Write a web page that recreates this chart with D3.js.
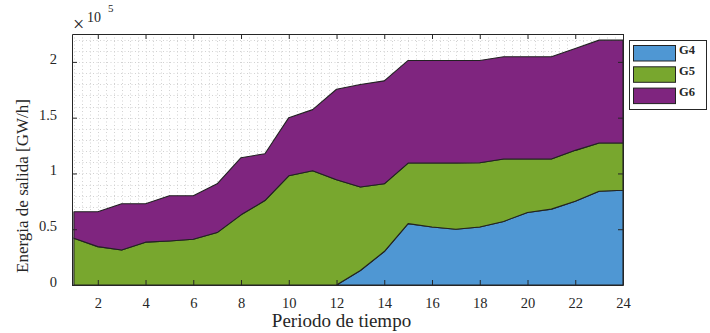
<!DOCTYPE html>
<html>
<head>
<meta charset="utf-8">
<script src="https://cdn.jsdelivr.net/npm/d3@7"></script>
<style>
  body { margin: 0; background: #fff; }
</style>
</head>
<body>
<div id="chart"></div>
<script>
// periods 1..24
var periods = d3.range(1, 25);

// output energy per generator [GW/h]
var g4 = [0, 0, 0, 0, 0, 0, 0, 0, 0, 0, 0, 0,
          13000, 30000, 55000, 52000, 50000, 52000, 57000, 65000, 68000, 75000, 84000, 85000];
var g5 = [42000, 34400, 31400, 38400, 39500, 41000, 47000, 62900, 75700, 97900, 102400, 94300,
          74800, 60700, 54300, 57300, 59300, 57600, 55900, 47900, 44900, 45700, 43300, 42300];
var g6 = [23600, 31200, 41400, 34400, 40500, 39000, 43700, 51200, 42000, 52100, 54800, 81200,
          91900, 92300, 92000, 92000, 92000, 91700, 91700, 91700, 91700, 91300, 92200, 92200];

var seriesNames = ["G4", "G5", "G6"];
var colors = ["#4f97d3", "#78a72e", "#7f257f"];
var xTicks = d3.range(2, 25, 2);
var yTicks = [0, 50000, 100000, 150000, 200000];

var serif = "'Liberation Serif', 'DejaVu Serif', serif";
var ink = "#262626";

var margin = { top: 34, right: 87, bottom: 48, left: 72 },
    width = 710 - margin.left - margin.right,
    height = 333 - margin.top - margin.bottom;

var svg = d3.select("#chart").append("svg")
    .attr("width", 710)
    .attr("height", 333);

var g = svg.append("g")
    .attr("transform", "translate(" + margin.left + "," + margin.top + ")");

var x = d3.scaleLinear().domain([0.92, 24]).range([0, width]);
var y = d3.scaleLinear().domain([0, 225000]).range([height, 0]);

// table for the stack
var table = periods.map(function (p, i) {
  return { p: p, G4: g4[i], G5: g5[i], G6: g6[i] };
});
var stacked = d3.stack().keys(seriesNames)(table);

// minor dotted grid
var gx = d3.range(1, 24.01, 1 / 3);
var gy = d3.range(10000, 225000, 10000);
g.append("g").selectAll("line").data(gx).enter().append("line")
    .attr("x1", function (d) { return Math.round(x(d)) + 0.5; })
    .attr("x2", function (d) { return Math.round(x(d)) + 0.5; })
    .attr("y1", 0).attr("y2", height)
    .attr("stroke", "#d2d2d2")
    .attr("stroke-width", 1)
    .attr("stroke-dasharray", "1,2.5");
g.append("g").selectAll("line").data(gy).enter().append("line")
    .attr("y1", function (d) { return Math.round(y(d)) + 0.5; })
    .attr("y2", function (d) { return Math.round(y(d)) + 0.5; })
    .attr("x1", 0).attr("x2", width)
    .attr("stroke", "#d2d2d2")
    .attr("stroke-width", 1)
    .attr("stroke-dasharray", "1,2.5");

// stacked areas
var area = d3.area()
    .x(function (d) { return x(d.data.p); })
    .y0(function (d) { return y(d[0]); })
    .y1(function (d) { return y(d[1]); });

g.selectAll(".layer").data(stacked).enter().append("path")
    .attr("class", "layer")
    .attr("d", area)
    .attr("fill", function (d, i) { return colors[i]; })
    .attr("stroke", "#222")
    .attr("stroke-width", 1.1)
    .attr("stroke-linejoin", "round");

// axes, ticks inside on all four sides
var axisBottom = d3.axisBottom(x).tickValues(xTicks).tickSizeInner(-5).tickSizeOuter(0).tickPadding(13);
var axisTop = d3.axisTop(x).tickValues(xTicks).tickSizeInner(-5).tickSizeOuter(0).tickFormat("");
var axisLeft = d3.axisLeft(y).tickValues(yTicks).tickSizeInner(-5).tickSizeOuter(0).tickPadding(15)
    .tickFormat(function (d) { return d / 100000; });
var axisRight = d3.axisRight(y).tickValues(yTicks).tickSizeInner(-5).tickSizeOuter(0).tickFormat("");

g.append("g").attr("transform", "translate(0," + height + ")").call(axisBottom);
g.append("g").call(axisTop);
g.append("g").attr("class", "yaxis").call(axisLeft);
g.append("g").attr("transform", "translate(" + width + ",0)").call(axisRight);

g.selectAll(".domain").attr("stroke", ink);
g.selectAll(".tick line").attr("stroke", ink);
g.selectAll(".tick text")
    .style("font-family", serif)
    .style("font-size", "14.5px")
    .attr("fill", ink);
g.selectAll(".yaxis .tick text").attr("dy", "0.1em");

// exponent label
svg.append("text").attr("x", 73).attr("y", 31)
    .style("font-family", serif).style("font-size", "20px").attr("fill", ink)
    .text("\u00d7");
svg.append("text").attr("x", 87).attr("y", 22)
    .style("font-family", serif).style("font-size", "14px").attr("fill", ink)
    .text("10");
svg.append("text").attr("x", 108).attr("y", 12)
    .style("font-family", serif).style("font-size", "11px").attr("fill", ink)
    .text("5");

// axis labels
svg.append("text")
    .attr("x", margin.left + width / 2 - 6)
    .attr("y", 327)
    .attr("text-anchor", "middle")
    .style("font-family", serif).style("font-size", "19px").attr("fill", ink)
    .text("Periodo de tiempo");

svg.append("text")
    .attr("transform", "translate(28,186) rotate(-90)")
    .attr("text-anchor", "middle")
    .style("font-family", serif).style("font-size", "17px").attr("fill", ink)
    .text("Energia de salida [GW/h]");

// legend
var legend = svg.append("g").attr("transform", "translate(629.5,40.5)");
legend.append("rect")
    .attr("width", 77).attr("height", 69)
    .attr("fill", "#fff")
    .attr("stroke", ink);
seriesNames.forEach(function (name, i) {
  legend.append("rect")
      .attr("x", 4).attr("y", 5 + i * 21.3)
      .attr("width", 42).attr("height", 15.5)
      .attr("fill", colors[i])
      .attr("stroke", "#222");
  legend.append("text")
      .attr("x", 49.5).attr("y", 13 + i * 21.3)
      .style("font-family", serif).style("font-size", "12.5px")
      .style("font-weight", "bold").attr("fill", ink)
      .text(name);
});
</script>
</body>
</html>
